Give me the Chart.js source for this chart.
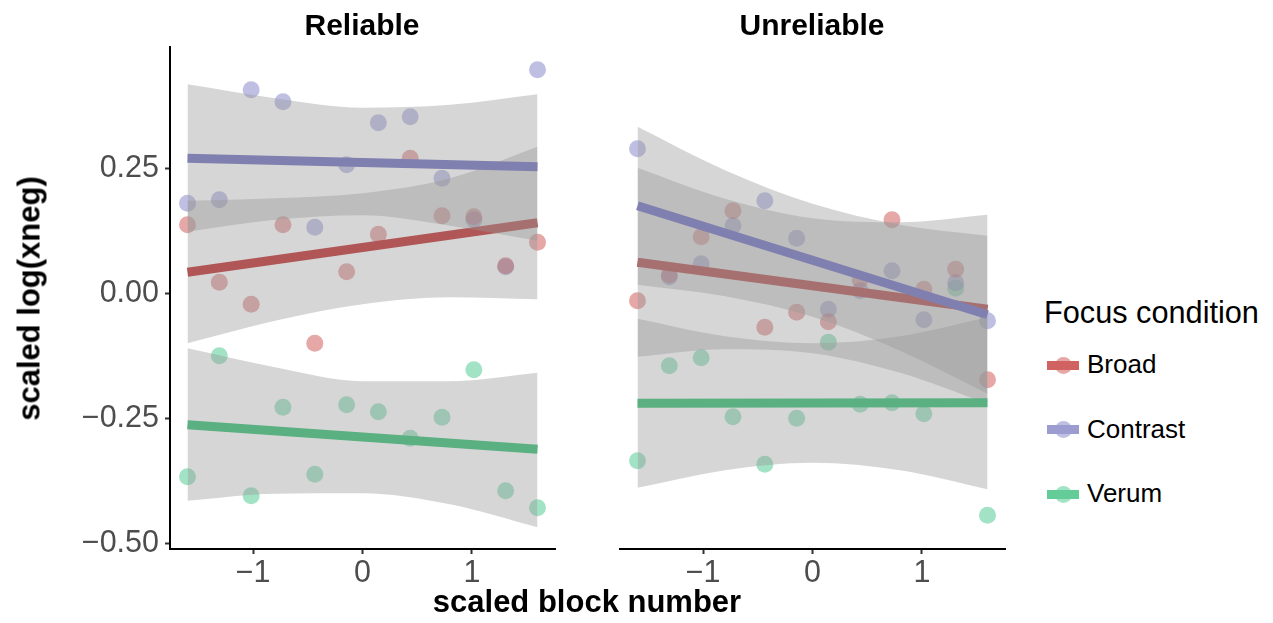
<!doctype html>
<html>
<head>
<meta charset="utf-8" />
<title>scaled log(xneg) by block</title>
<style>
  body { margin: 0; background: #fff; font-family: "Liberation Sans", Arial, sans-serif; }
  #page { position: relative; width: 1273px; height: 623px; overflow: hidden; }
  canvas { position: absolute; top: 0; }
  .txt { position: absolute; line-height: 1; white-space: nowrap; color: #000; }
  .b { font-weight: bold; }
  .key { position: absolute; }
  .key .ln { position: absolute; left: 0; top: -4.5px; width: 32px; height: 9px; }
  .key .pt { position: absolute; left: 7.5px; top: -8.5px; width: 17px; height: 17px; border-radius: 50%; }
</style>
<script src="https://cdn.jsdelivr.net/npm/chart.js@4"></script>
</head>
<body>
<div id="page">
  <canvas id="left" width="570" height="623" style="left:0;width:570px;height:623px"></canvas>
  <canvas id="right" width="415" height="623" style="left:605px;width:415px;height:623px"></canvas>

  <div class="txt b" style="left:162px;top:9.6px;width:400px;text-align:center;font-size:30px">Reliable</div>
  <div class="txt b" style="left:612px;top:9.6px;width:400px;text-align:center;font-size:30px">Unreliable</div>
  <div class="txt b" style="left:387px;top:586px;width:400px;text-align:center;font-size:31px">scaled block number</div>
  <div class="txt b" style="left:-170.7px;top:282.5px;width:400px;text-align:center;font-size:31px;transform:rotate(-90deg)">scaled log(xneg)</div>

  <div class="txt" style="left:1044px;top:297.5px;font-size:30.7px">Focus condition</div>
  <div id="legend"></div>
</div>
<script>
// x positions of the 12 blocks (scaled)
const blockX = [-1.6, -1.309, -1.018, -0.727, -0.436, -0.145, 0.145, 0.436, 0.727, 1.018, 1.309, 1.6];
const fitX = [-1.6, 1.6];
const bandX = [-1.6, -0.8, 0, 0.8, 1.6];
const groups = ['Broad', 'Contrast', 'Verum'];
const yTicks = [-0.5, -0.25, 0, 0.25];
const xTicks = [-1, 0, 1];

// Reliable panel
const relBroad    = [0.137, 0.022, -0.022, 0.137, -0.100, 0.043, 0.118, 0.270, 0.155, 0.153, 0.055, 0.102];
const relContrast = [0.180, 0.187, 0.407, 0.383, 0.132, 0.257, 0.341, 0.353, 0.230, 0.147, 0.053, 0.447];
const relVerum    = [-0.367, -0.125, -0.405, -0.228, -0.362, -0.223, -0.237, -0.290, -0.248, -0.153, -0.395, -0.429];
const relFitBroad = [0.042, 0.141];
const relFitContrast = [0.270, 0.253];
const relFitVerum = [-0.263, -0.312];
const relBroadHi    = [0.185, 0.190, 0.200, 0.230, 0.293];
const relBroadLo    = [-0.100, -0.055, -0.022, -0.008, -0.012];
const relContrastHi = [0.418, 0.390, 0.371, 0.377, 0.398];
const relContrastLo = [0.123, 0.147, 0.156, 0.135, 0.105];
const relVerumHi    = [-0.110, -0.148, -0.176, -0.176, -0.159];
const relVerumLo    = [-0.415, -0.401, -0.400, -0.422, -0.468];

// Unreliable panel
const unrBroad    = [-0.015, 0.037, 0.113, 0.165, -0.068, -0.038, -0.057, 0.027, 0.147, 0.008, 0.048, -0.173];
const unrContrast = [0.289, 0.033, 0.059, 0.135, 0.185, 0.110, -0.032, 0.005, 0.045, -0.053, 0.021, -0.055];
const unrVerum    = [-0.335, -0.145, -0.129, -0.247, -0.342, -0.250, -0.098, -0.222, -0.219, -0.241, 0.010, -0.444];
const unrFitBroad = [0.062, -0.032];
const unrFitContrast = [0.175, -0.043];
const unrFitVerum = [-0.220, -0.219];
const unrBroadHi    = [0.251, 0.189, 0.150, 0.142, 0.157];
const unrBroadLo    = [-0.127, -0.112, -0.120, -0.159, -0.221];
const unrContrastHi = [0.333, 0.246, 0.179, 0.137, 0.115];
const unrContrastLo = [0.017, -0.006, -0.047, -0.115, -0.201];
const unrVerumHi    = [-0.051, -0.086, -0.100, -0.086, -0.048];
const unrVerumLo    = [-0.389, -0.354, -0.339, -0.354, -0.392];

const pointColors = ['rgba(205,80,80,0.5)', 'rgba(128,128,200,0.5)', 'rgba(72,200,140,0.5)'];
const lineColors = ['#b15656', '#8080b0', '#5ab080'];
const keyColors = ['#d06262', '#9c9cd0', '#64cc98'];
const ribbon = 'rgba(153,153,153,0.4)';
const FONT = '"Liberation Sans", Arial, sans-serif';

const xy = (xs, ys) => xs.map((x, i) => ({ x, y: ys[i] }));
const minus = (s) => s.replace('-', '\u2212');

function panelDatasets(points, fits, his, los) {
  const ds = [];
  points.forEach((p, g) => {
    ds.push({ data: xy(blockX, p), showLine: false, pointRadius: 8.5, pointHoverRadius: 8.5,
      pointBackgroundColor: pointColors[g], pointBorderWidth: 0, order: 100 });
  });
  // ribbon then line for each group, in group order (later groups on top)
  groups.forEach((_, g) => {
    const base = 60 - g * 10;
    ds.push({ data: xy(bandX, his[g]), fill: '+1', backgroundColor: ribbon, borderColor: 'transparent',
      borderWidth: 0, pointRadius: 0, cubicInterpolationMode: 'monotone', order: base });
    ds.push({ data: xy(bandX, los[g]), fill: false, borderColor: 'transparent', borderWidth: 0,
      pointRadius: 0, cubicInterpolationMode: 'monotone', order: base });
    ds.push({ data: xy(fitX, fits[g]), fill: false, borderColor: lineColors[g], borderWidth: 9,
      borderCapStyle: 'butt', pointRadius: 0, order: base - 1 });
  });
  return ds;
}

function makeChart(id, datasets, showY) {
  return new Chart(document.getElementById(id), {
    type: 'line',
    data: { datasets },
    options: {
      responsive: false,
      animation: false,
      events: [],
      layout: { padding: { top: 47, right: 15, bottom: 0, left: showY ? 0 : 15 } },
      plugins: { legend: { display: false }, tooltip: { enabled: false } },
      elements: { line: { clip: false } },
      scales: {
        x: {
          type: 'linear', min: -1.76, max: 1.76,
          afterBuildTicks: (s) => { s.ticks = xTicks.map(v => ({ value: v })); },
          afterFit: (s) => { s.height = 74; },
          border: { display: true, color: '#000', width: 2 },
          grid: { drawOnChartArea: false, drawTicks: true, tickLength: 5, tickColor: '#333', tickWidth: 2 },
          ticks: { color: '#4d4d4d', font: { family: FONT, size: 30.5 }, padding: 1, maxRotation: 0,
            callback: (v) => minus(String(v)) }
        },
        y: {
          type: 'linear', min: -0.5114, max: 0.4926, display: showY,
          afterBuildTicks: (s) => { s.ticks = yTicks.map(v => ({ value: v })); },
          afterFit: (s) => { s.width = showY ? 170 : 0; },
          border: { display: true, color: '#000', width: 2 },
          grid: { drawOnChartArea: false, drawTicks: true, tickLength: 5, tickColor: '#333', tickWidth: 2 },
          ticks: { color: '#4d4d4d', font: { family: FONT, size: 30.5 }, padding: 6,
            callback: (v) => minus(v.toFixed(2)) }
        }
      }
    }
  });
}

makeChart('left', panelDatasets(
  [relBroad, relContrast, relVerum],
  [relFitBroad, relFitContrast, relFitVerum],
  [relBroadHi, relContrastHi, relVerumHi],
  [relBroadLo, relContrastLo, relVerumLo]), true);

makeChart('right', panelDatasets(
  [unrBroad, unrContrast, unrVerum],
  [unrFitBroad, unrFitContrast, unrFitVerum],
  [unrBroadHi, unrContrastHi, unrVerumHi],
  [unrBroadLo, unrContrastLo, unrVerumLo]), false);

// legend
const legend = document.getElementById('legend');
groups.forEach((name, g) => {
  const cy = 365 + g * 64.5;
  legend.insertAdjacentHTML('beforeend',
    `<div class="key" style="left:1047px;top:${cy}px">
       <div class="pt" style="background:${pointColors[g]}"></div>
       <div class="ln" style="background:${keyColors[g]}"></div>
     </div>
     <div class="txt" style="left:1087px;top:${cy + 8.3 - 22}px;font-size:26px">${name}</div>`);
});
</script>
</body>
</html>
